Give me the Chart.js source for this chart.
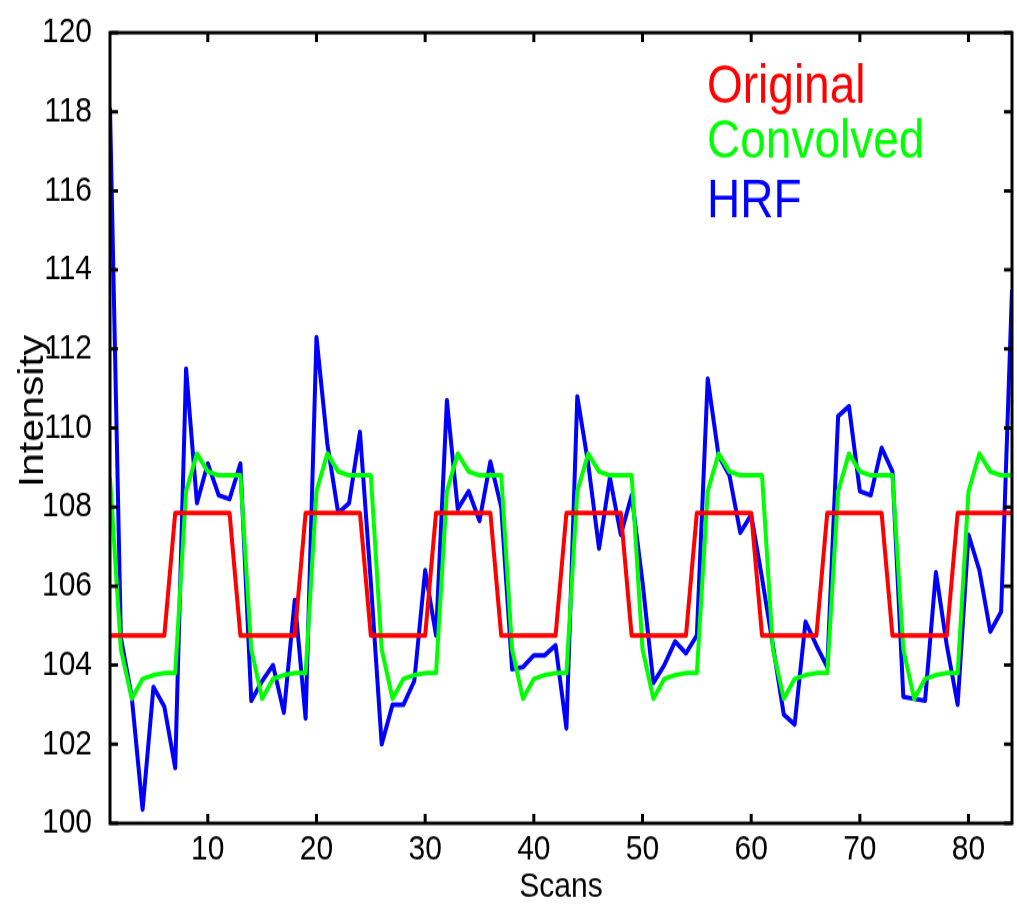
<!DOCTYPE html>
<html>
<head>
<meta charset="utf-8">
<title>Intensity vs Scans</title>
<script src="https://cdn.jsdelivr.net/npm/chart.js@4.4.0/dist/chart.umd.min.js"></script>
<style>
    html, body { margin: 0; padding: 0; background: #fff; overflow: hidden; }
    /* the reference text is taller than it is wide, so the chart is stretched vertically */
    #wrap { position: absolute; left: 0; top: 0; width: 1017px; height: 775px; transform-origin: 0 0; transform: scaleY(1.16774); }
</style>
</head>
<body>
<div id="wrap"><canvas id="chart"></canvas></div>
<script>
const scans = Array.from({ length: 84 }, (_, i) => i + 1);

const original = [
    104.75, 104.75, 104.75, 104.75, 104.75, 104.75,
    107.85, 107.85, 107.85, 107.85, 107.85, 107.85,
    104.75, 104.75, 104.75, 104.75, 104.75, 104.75,
    107.85, 107.85, 107.85, 107.85, 107.85, 107.85,
    104.75, 104.75, 104.75, 104.75, 104.75, 104.75,
    107.85, 107.85, 107.85, 107.85, 107.85, 107.85,
    104.75, 104.75, 104.75, 104.75, 104.75, 104.75,
    107.85, 107.85, 107.85, 107.85, 107.85, 107.85,
    104.75, 104.75, 104.75, 104.75, 104.75, 104.75,
    107.85, 107.85, 107.85, 107.85, 107.85, 107.85,
    104.75, 104.75, 104.75, 104.75, 104.75, 104.75,
    107.85, 107.85, 107.85, 107.85, 107.85, 107.85,
    104.75, 104.75, 104.75, 104.75, 104.75, 104.75,
    107.85, 107.85, 107.85, 107.85, 107.85, 107.85
];

const convolved = [
    108.75, 104.4, 103.15, 103.65, 103.75, 103.8,
    103.8, 108.4, 109.35, 108.9, 108.8, 108.8,
    108.8, 104.4, 103.15, 103.65, 103.75, 103.8,
    103.8, 108.4, 109.35, 108.9, 108.8, 108.8,
    108.8, 104.4, 103.15, 103.65, 103.75, 103.8,
    103.8, 108.4, 109.35, 108.9, 108.8, 108.8,
    108.8, 104.4, 103.15, 103.65, 103.75, 103.8,
    103.8, 108.4, 109.35, 108.9, 108.8, 108.8,
    108.8, 104.4, 103.15, 103.65, 103.75, 103.8,
    103.8, 108.4, 109.35, 108.9, 108.8, 108.8,
    108.8, 104.4, 103.15, 103.65, 103.75, 103.8,
    103.8, 108.4, 109.35, 108.9, 108.8, 108.8,
    108.8, 104.4, 103.15, 103.65, 103.75, 103.8,
    103.8, 108.4, 109.35, 108.9, 108.8, 108.8
];

const hrf = [
    118.1, 104.7, 103.2, 100.35, 103.45, 102.95,
    101.4, 111.5, 108.1, 109.1, 108.3, 108.2,
    109.1, 103.1, 103.6, 104.0, 102.8, 105.65,
    102.65, 112.3, 109.6, 107.85, 108.1, 109.9,
    106.1, 102.0, 103.0, 103.0, 103.6, 106.4,
    104.75, 110.7, 107.95, 108.4, 107.65, 109.15,
    108.0, 103.9, 103.95, 104.25, 104.25, 104.5,
    102.4, 110.8, 109.1, 106.95, 108.75, 107.3,
    108.3, 106.1, 103.55, 104.0, 104.6, 104.3,
    104.75, 111.25, 109.3, 108.8, 107.35, 107.8,
    106.2, 104.5, 102.75, 102.5, 105.1, 104.5,
    103.95, 110.3, 110.55, 108.4, 108.3, 109.5,
    108.9, 103.2, 103.15, 103.1, 106.35, 104.5,
    103.0, 107.3, 106.4, 104.85, 105.35, 113.5
];

const xTicks = [10, 20, 30, 40, 50, 60, 70, 80];
const yTicks = [100, 102, 104, 106, 108, 110, 112, 114, 116, 118, 120];

const seriesNames = ['Original', 'Convolved', 'HRF'];
const seriesColors = ['#ff0000', '#00ff00', '#0000ff'];
const yTitle = 'Intensity';

const FONT = "'Liberation Sans', Arial, Helvetica, sans-serif";

function toPoints(values) {
    return values.map((v, i) => ({ x: scans[i], y: v }));
}

// matlab style box with ticks pointing inwards
const boxPlugin = {
    id: 'box',
    afterDatasetsDraw(chart) {
        const { ctx, chartArea: a, scales } = chart;
        const len = 8;
        ctx.save();
        ctx.strokeStyle = '#000';
        ctx.lineWidth = 3;
        ctx.beginPath();
        yTicks.forEach((v) => {
            const py = scales.y.getPixelForValue(v);
            ctx.moveTo(a.left, py); ctx.lineTo(a.left + len, py);
            ctx.moveTo(a.right, py); ctx.lineTo(a.right - len, py);
        });
        xTicks.forEach((v) => {
            const px = scales.x.getPixelForValue(v);
            ctx.moveTo(px, a.bottom); ctx.lineTo(px, a.bottom - len);
            ctx.moveTo(px, a.top); ctx.lineTo(px, a.top + len);
        });
        ctx.stroke();
        ctx.strokeRect(a.left, a.top, a.right - a.left, a.bottom - a.top);
        ctx.restore();
    }
};

// text-only legend in the upper right, and the y title sitting a bit above centre
const textPlugin = {
    id: 'texts',
    afterDraw(chart) {
        const { ctx } = chart;
        ctx.save();
        ctx.font = `46px ${FONT}`;
        ctx.textAlign = 'left';
        ctx.textBaseline = 'alphabetic';
        const baselines = [88, 135, 186];
        seriesNames.forEach((name, i) => {
            ctx.fillStyle = seriesColors[i];
            ctx.fillText(name, 707, baselines[i]);
        });

        ctx.translate(33, 352);
        ctx.rotate(-Math.PI / 2);
        ctx.font = `35px ${FONT}`;
        ctx.fillStyle = '#000';
        ctx.textAlign = 'center';
        ctx.textBaseline = 'middle';
        ctx.fillText(yTitle, 0, 0);
        ctx.restore();
    }
};

const ctx = document.getElementById('chart').getContext('2d');
new Chart(ctx, {
    type: 'line',
    data: {
        datasets: [
            { label: seriesNames[0], data: toPoints(original), borderColor: seriesColors[0] },
            { label: seriesNames[1], data: toPoints(convolved), borderColor: seriesColors[1] },
            { label: seriesNames[2], data: toPoints(hrf), borderColor: seriesColors[2] }
        ]
    },
    options: {
        responsive: true,
        maintainAspectRatio: false,
        animation: false,
        layout: { padding: { left: 0, right: 5, top: 20, bottom: 0 } },
        elements: {
            point: { radius: 0 },
            line: { borderWidth: 4, tension: 0, fill: false, borderJoinStyle: 'round' }
        },
        plugins: {
            legend: { display: false },
            tooltip: { enabled: false }
        },
        scales: {
            x: {
                type: 'linear',
                min: 1,
                max: 84,
                afterBuildTicks: (s) => { s.ticks = xTicks.map((v) => ({ value: v })); },
                afterFit: (s) => { s.height = 70; },
                grid: { display: false },
                border: { display: false },
                ticks: { color: '#000', padding: 0, font: { family: FONT, size: 30, lineHeight: 1 } },
                title: {
                    display: true,
                    text: 'Scans',
                    color: '#000',
                    font: { family: FONT, size: 30, lineHeight: 1 },
                    padding: { top: 0, bottom: 0 }
                }
            },
            y: {
                min: 100,
                max: 120,
                afterBuildTicks: (s) => { s.ticks = yTicks.map((v) => ({ value: v })); },
                afterFit: (s) => { s.width = 110; },
                grid: { display: false },
                border: { display: false },
                ticks: { color: '#000', padding: 10, font: { family: FONT, size: 30 } },
                title: { display: false }
            }
        }
    },
    plugins: [boxPlugin, textPlugin]
});
</script>
</body>
</html>
